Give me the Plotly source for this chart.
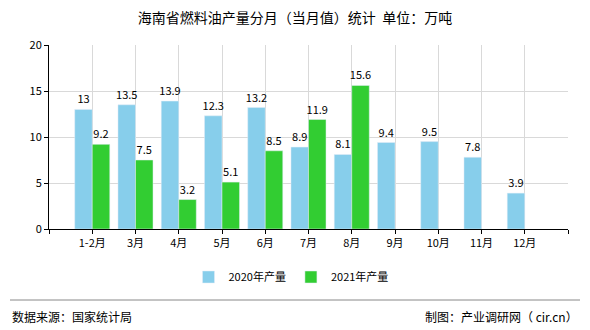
import plotly.graph_objects as go

categories = ["1-2月", "3月", "4月", "5月", "6月", "7月", "8月", "9月", "10月", "11月", "12月"]
values_2020 = [13, 13.5, 13.9, 12.3, 13.2, 8.9, 8.1, 9.4, 9.5, 7.8, 3.9]
values_2021 = [9.2, 7.5, 3.2, 5.1, 8.5, 11.9, 15.6]
series_names = ["2020年产量", "2021年产量"]
title_text = "海南省燃料油产量分月（当月值）统计  单位：万吨"
source_text = "数据来源：国家统计局"
credit_text = "制图：产业调研网（ cir.cn）"

FONT = "Noto Sans CJK SC"
pos = list(range(1, len(categories) + 1))

fig = go.Figure()
fig.add_trace(go.Bar(
    x=pos, y=values_2020, name=series_names[0], marker_color="#87CEEB",
    text=[f"{v:g}" for v in values_2020], textposition="outside", constraintext="none",
    textfont=dict(size=11, color="#000000", family=FONT), cliponaxis=False,
))
fig.add_trace(go.Bar(
    x=pos[:len(values_2021)], y=values_2021, name=series_names[1], marker_color="#32CD32",
    text=[f"{v:g}" for v in values_2021], textposition="outside", constraintext="none",
    textfont=dict(size=11, color="#000000", family=FONT), cliponaxis=False,
))

H = 330 - 45 - 101
W = 590 - 49 - 22

fig.update_layout(
    width=590, height=330,
    margin=dict(l=49, r=22, t=45, b=101),
    paper_bgcolor="white", plot_bgcolor="white",
    barmode="group", bargap=0.19, bargroupgap=0,
    font=dict(family=FONT, size=11, color="#000000"),
    title=dict(text=title_text, x=0.5, xanchor="center", y=1 - 18 / 330, yanchor="middle",
               font=dict(size=14, color="#000000", family=FONT)),
    legend=dict(orientation="h", x=(291 - 49) / W, xanchor="center", y=-(277 - 229) / H, yanchor="middle",
                font=dict(size=11, family=FONT), itemwidth=30, traceorder="normal"),
)
fig.update_xaxes(
    range=[0, len(categories) + 1],
    tickvals=list(range(0, len(categories) + 2)),
    ticktext=[""] + categories + [""],
    showline=True, linecolor="#000000", linewidth=1,
    ticks="outside", ticklen=4, tickcolor="#000000",
    showgrid=True, gridcolor="#d9d9d9", gridwidth=1,
    tickfont=dict(size=11, family=FONT), zeroline=False,
)
fig.update_yaxes(
    range=[0, 20], tickvals=[0, 5, 10, 15, 20],
    showline=True, linecolor="#000000", linewidth=1,
    ticks="outside", ticklen=4, tickcolor="#000000",
    showgrid=True, gridcolor="#d9d9d9", gridwidth=1,
    tickfont=dict(size=11, family=FONT), zeroline=False,
)

fig.add_shape(type="line", xref="paper", yref="paper",
              x0=(10 - 49) / W, x1=(580 - 49) / W,
              y0=-(300 - 229) / H, y1=-(300 - 229) / H,
              line=dict(color="#888888", width=1))
fig.add_annotation(text=source_text, xref="paper", yref="paper",
                   x=(10 - 49) / W, y=-(316 - 229) / H, xanchor="left", yanchor="middle",
                   showarrow=False, font=dict(size=12, family=FONT, color="#000000"))
fig.add_annotation(text=credit_text, xref="paper", yref="paper",
                   x=(580 - 49) / W, y=-(316 - 229) / H, xanchor="right", yanchor="middle",
                   showarrow=False, font=dict(size=12, family=FONT, color="#000000"))

fig.write_html("out.html")
